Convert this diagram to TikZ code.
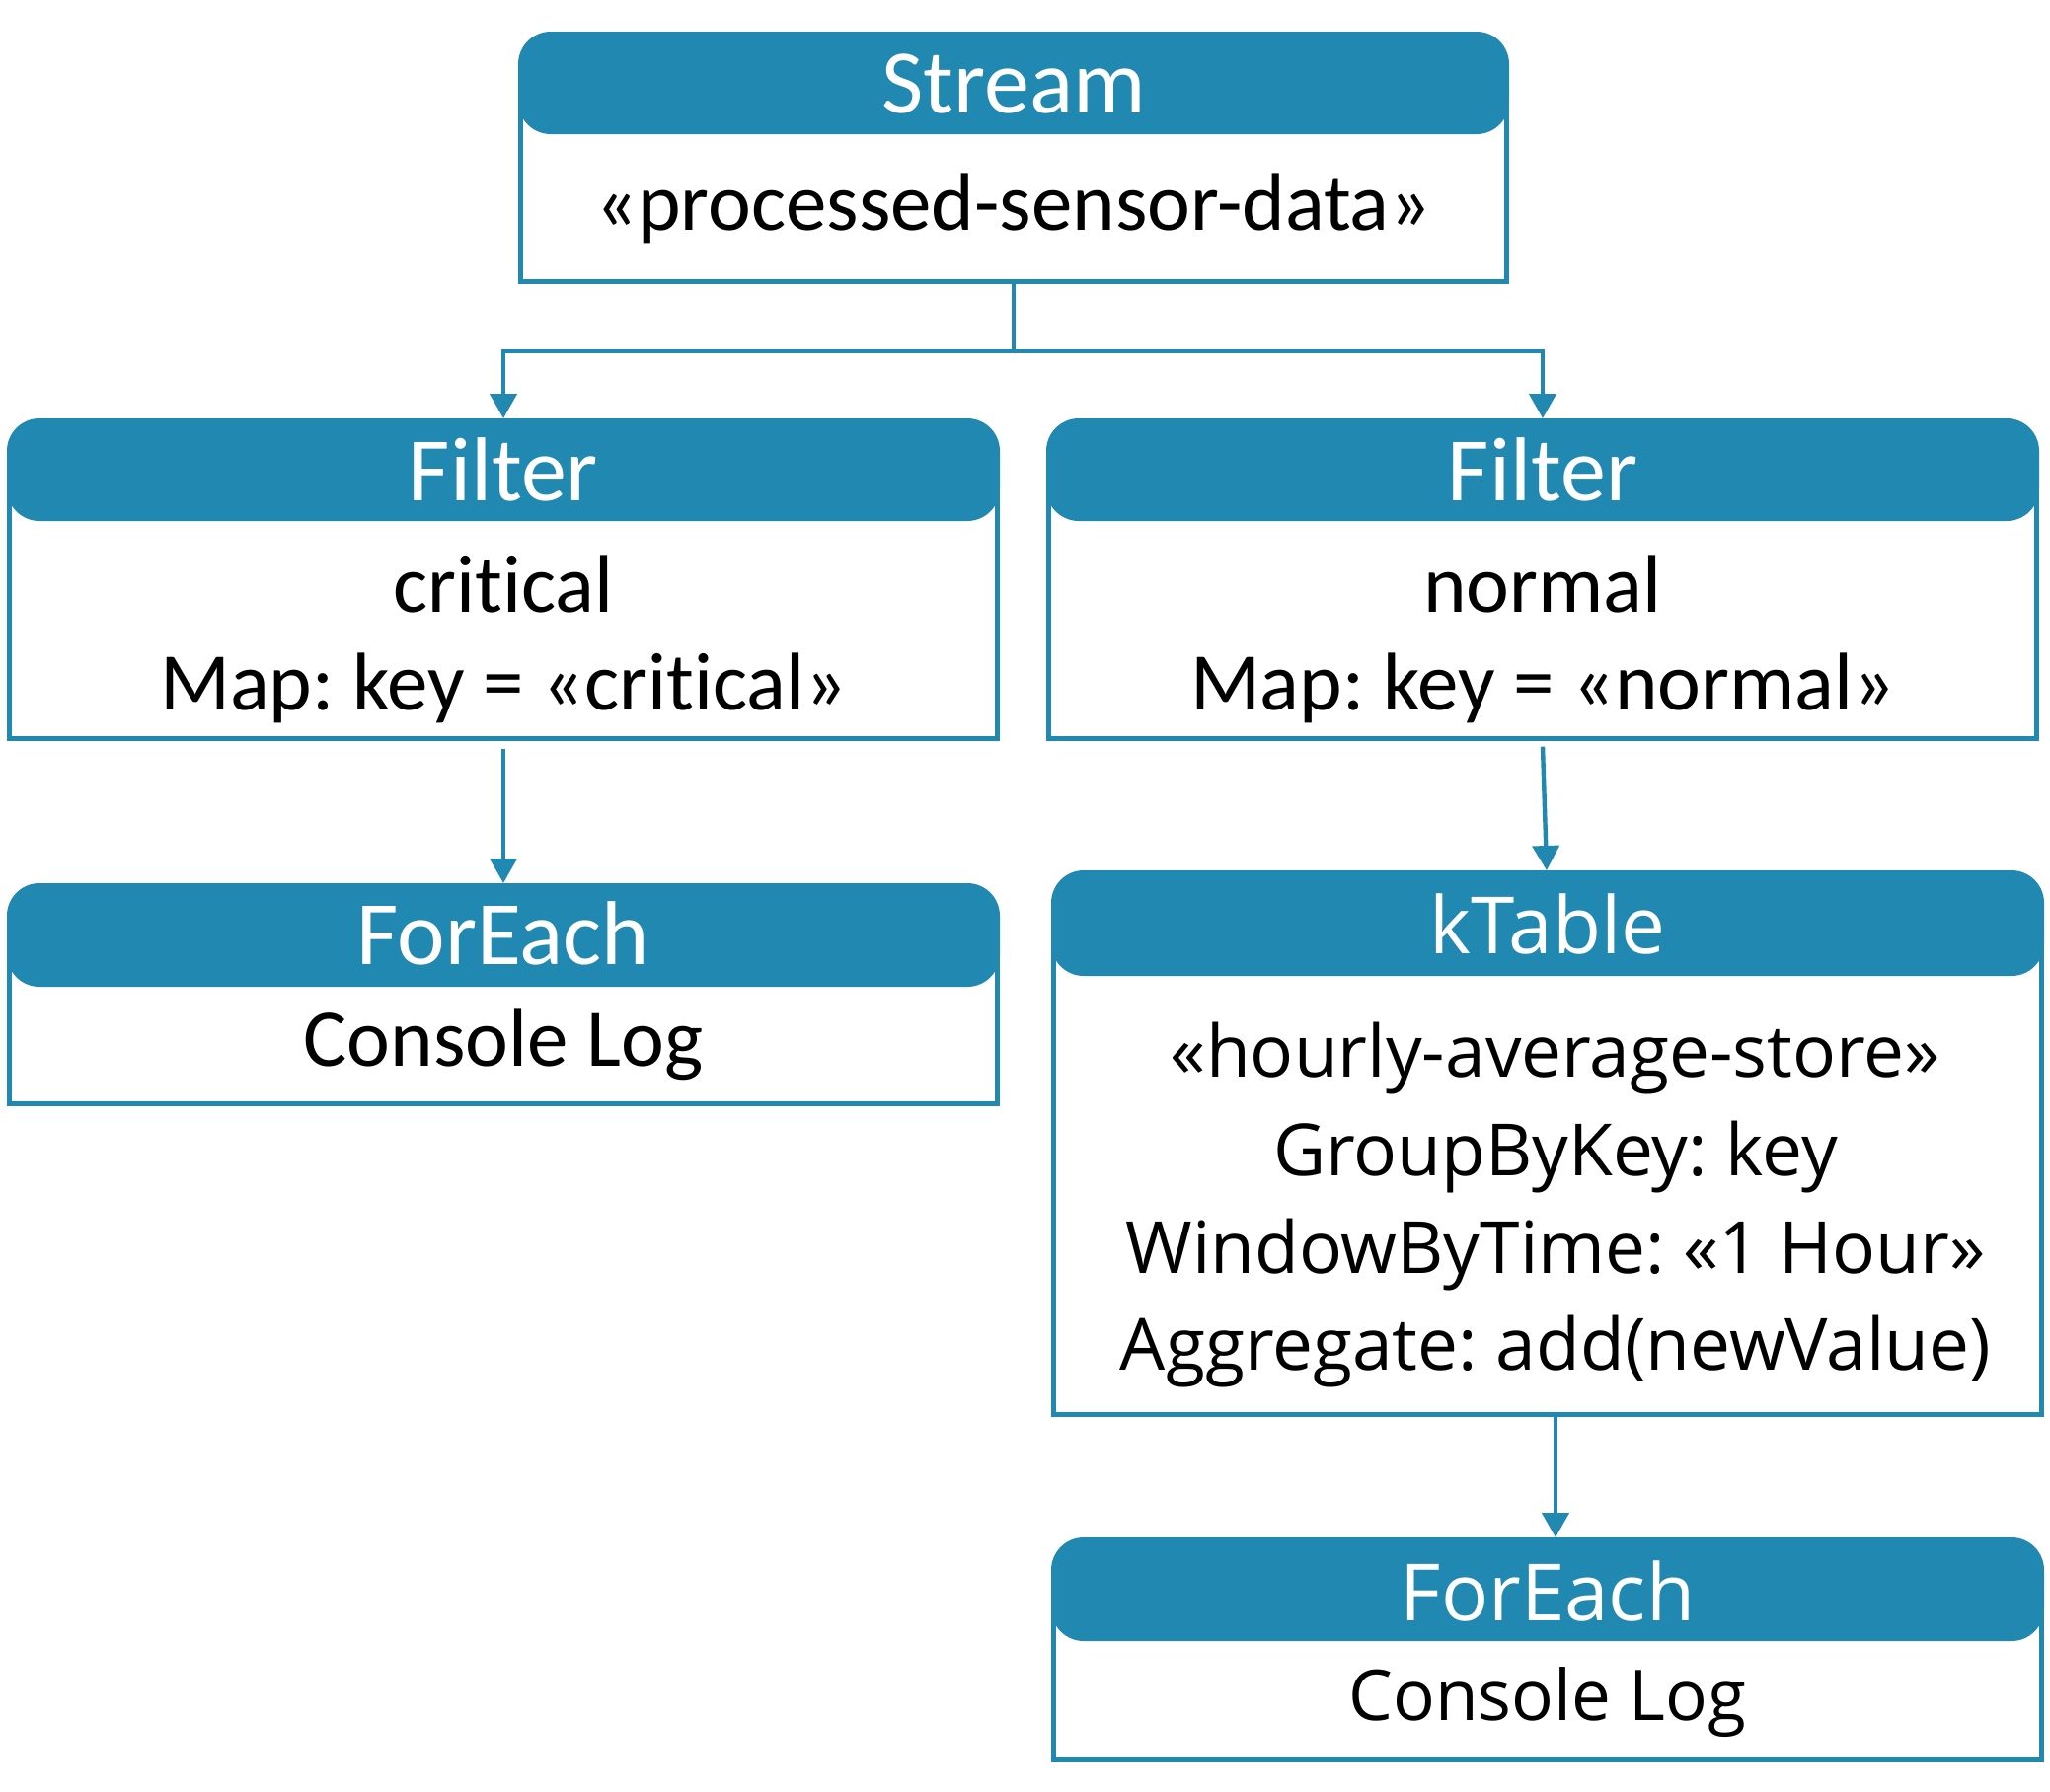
\documentclass[tikz,border=0pt]{standalone}
\usepackage{fontspec}
\setmainfont{Carlito}[Ligatures=NoCommon]
\newfontfamily\segoe{Open Sans}[Ligatures=NoCommon]
\usetikzlibrary{arrows.meta}
\definecolor{kblue}{RGB}{33,137,177}
\tikzset{
  body/.style={draw=kblue, line width=4.6pt, fill=none, inner sep=0pt, outer sep=0pt},
  head/.style={fill=kblue, draw=none, rounded corners=33pt, inner sep=0pt, outer sep=0pt, minimum height=104pt},
  htext/.style={anchor=base, inner sep=0pt, text=white, font=\frenchspacing\fontsize{92pt}{100pt}\selectfont},
  btext/.style={anchor=base, inner sep=0pt, text=black, font=\frenchspacing\fontsize{83pt}{90pt}\selectfont},
  htextB/.style={anchor=base, inner sep=0pt, text=white, font=\frenchspacing\segoe\fontsize{80pt}{90pt}\selectfont},
  btextB/.style={anchor=base, inner sep=0pt, text=black, font=\frenchspacing\segoe\fontsize{73pt}{80pt}\selectfont},
  conn/.style={draw=kblue, line width=4.4pt},
  arr/.style={conn, -{Triangle[width=27pt,length=25pt]}}
}
\begin{document}
\begin{tikzpicture}[x=1pt, y=-1pt]
\useasboundingbox (0,0) rectangle (2077,1815);
% Stream
\node[body, minimum width=999.4pt, minimum height=213.7pt] (sB) at (1027,178.85) {};
\node[head, minimum width=1004pt] (sH) at (1027,84) {};
\node[htext] (sT) at (1027,114) {Stream};
\node[btext] (sT1) at (1027,233) {«processed-sensor-data»};
% Filter left
\node[body, minimum width=1001.4pt, minimum height=284.7pt] (fLB) at (510,606.35) {};
\node[head, minimum width=1006pt] (fLH) at (510,476) {};
\node[htext] (fLT) at (510,507) {Filter};
\node[btext] (fLT1) at (510,620) {critical};
\node[btext] (fLT2) at (510,719.5) {Map: key = «critical»};
% Filter right
\node[body, minimum width=1001.4pt, minimum height=284.7pt] (fRB) at (1563,606.35) {};
\node[head, minimum width=1006pt] (fRH) at (1563,476) {};
\node[htext] (fRT) at (1563,507) {Filter};
\node[btext] (fRT1) at (1563,620) {normal};
\node[btext] (fRT2) at (1563,719.5) {Map: key = «normal»};
% ForEach left
\node[body, minimum width=1001.4pt, minimum height=183.7pt] (eLB) at (510,1026.85) {};
\node[head, minimum width=1006pt, minimum height=105pt] (eLH) at (510,947.5) {};
\node[htext] (eLT) at (510,977) {ForEach};
\node[btext] (eLT1) at (510,1080) {Console Log};
% kTable
\node[body, minimum width=1001.4pt, minimum height=511.7pt] (kB) at (1568,1177.85) {};
\node[head, minimum width=1006pt, minimum height=107pt] (kH) at (1568,935.5) {};
\node[htextB] (kT) at (1568,966) {kTable};
\node[btextB] (kT1) at (1576,1091) {«hourly-average-store»};
\node[btextB] (kT2) at (1576,1191) {GroupByKey: key};
\node[btextB] (kT3) at (1576,1290) {WindowByTime: «1 Hour»};
\node[btextB] (kT4) at (1576,1388) {Aggregate: add(newValue)};
% ForEach right
\node[body, minimum width=1001.4pt, minimum height=185.7pt] (eRB) at (1568,1690.85) {};
\node[head, minimum width=1006pt, minimum height=105pt] (eRH) at (1568,1610.5) {};
\node[htextB] (eRT) at (1568,1642) {ForEach};
\node[btextB, font=\frenchspacing\segoe\fontsize{71pt}{80pt}\selectfont] (eRT1) at (1568,1743) {Console Log};
% connectors
\coordinate (j) at (1027,356);
\draw[conn] (sB.south) -- (j);
\draw[arr] (j) -| (fLH.north);
\draw[arr] (j) -| (fRH.north);
\draw[arr] ([yshift=-10pt]fLB.south) -- (eLH.north);
\draw[arr] ([yshift=-8pt]fRB.south) -- ([xshift=-1pt]kH.north);
\draw[arr] ([xshift=8pt]kB.south) -- ([xshift=8pt]eRH.north);
\end{tikzpicture}
\end{document}
